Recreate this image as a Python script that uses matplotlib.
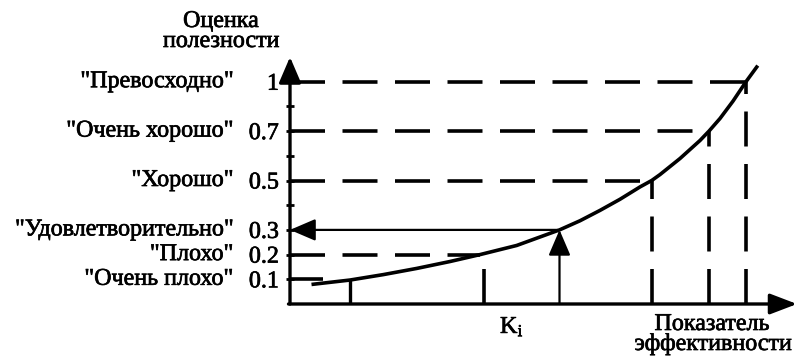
import numpy as np
import matplotlib
matplotlib.use("Agg")
import matplotlib.pyplot as plt
import matplotlib.patheffects as pe

plt.rcParams['font.family'] = ['Liberation Serif', 'DejaVu Serif']
plt.rcParams['mathtext.fontset'] = 'custom'
plt.rcParams['mathtext.rm'] = 'Liberation Serif'
plt.rcParams['mathtext.it'] = 'Liberation Serif'
plt.rcParams['lines.scale_dashes'] = False

# ---- data ----
curve_x = [0.466, 1.20, 1.866, 2.534, 3.20, 3.80, 4.534, 5.39, 5.80, 6.20, 6.60,
           7.00, 7.234, 7.40, 7.80, 8.20, 8.38, 8.60, 8.86, 9.12, 9.334]
curve_y = [0.080, 0.097, 0.119, 0.144, 0.172, 0.200, 0.237, 0.300, 0.337, 0.379, 0.424,
           0.474, 0.500, 0.524, 0.589, 0.662, 0.700, 0.7765, 0.882, 1.000, 1.089]

levels = [1.0, 0.7, 0.5, 0.3, 0.2, 0.1]
level_labels = ['1', '0.7', '0.5', '0.3', '0.2', '0.1']
grade_labels = ['"Превосходно"', '"Очень хорошо"', '"Хорошо"',
                '"Удовлетворительно"', '"Плохо"', '"Очень плохо"']
minor_levels = [0.85, 0.6, 0.4]

hguide_levels = [1.0, 0.7, 0.5, 0.2, 0.1]
hguide_xend = [9.12, 8.38, 7.234, 3.80, 0.66]
vguide_x = [9.12, 8.38, 7.234, 3.87]
vguide_top = [1.0, 0.7, 0.5, 0.2]
solid_tick_x = 1.20
solid_tick_top = 0.097
ki_x = 5.39
ki_y = 0.30
ki_label = r'$\mathrm{K_i}$'
y_title = ['Оценка', 'полезности']
x_title = ['Показатель', 'эффективности']

# ---- non-linear utility scale (top part compressed) ----
def fwd(v):
    v = np.asarray(v, float)
    return np.where(v <= 0.7, v * 10.0, 7.0 + (v - 0.7) / 0.15)

def inv(p):
    p = np.asarray(p, float)
    return np.where(p <= 7.0, p / 10.0, 0.7 + (p - 7.0) * 0.15)

W, H = 798, 358
FS = 17.3
bold_fx = [pe.withStroke(linewidth=0.5, foreground='black')]
fig = plt.figure(figsize=(W / 100, H / 100), dpi=100)
ax = fig.add_axes([290 / W, (H - 304) / H, 507 / W, 247 / H])
ax.set_yscale('function', functions=(fwd, inv))
ax.set_xlim(0, 10.14)
ax.set_ylim(0, 1.15)
for s in ax.spines.values():
    s.set_visible(False)
ax.set_xticks([])
ax.set_yticks(levels)
ax.set_yticklabels(level_labels, fontsize=FS)
for t in ax.get_yticklabels():
    t.set_path_effects(bold_fx)
ax.set_yticks(minor_levels, minor=True)
ax.tick_params(axis='y', which='both', direction='inout', length=6, width=2, pad=5)
ax.yaxis.set_minor_formatter(plt.NullFormatter())

dash = (25.2, 12.6)
lw = 2.6
# dashed guides
for lv, xe in zip(hguide_levels, hguide_xend):
    ax.plot([0, xe], [lv, lv], color='black', lw=lw, dashes=dash)
for xv, top in zip(vguide_x, vguide_top):
    ax.plot([xv, xv], [0, top], color='black', lw=lw, dashes=dash)
ax.plot([solid_tick_x, solid_tick_x], [0, solid_tick_top], color='black', lw=2.4,
        solid_capstyle='butt')

# curve
ax.plot(curve_x, curve_y, color='black', lw=2.6, solid_joinstyle='round')

# K_i arrows
arrow_style = '-|>,head_length=1.05,head_width=0.45'
ax.annotate('', xy=(ki_x, ki_y), xytext=(ki_x, 0),
            arrowprops=dict(arrowstyle=arrow_style, mutation_scale=15, lw=1.6,
                            color='black', shrinkA=0, shrinkB=0))
ax.annotate('', xy=(0, ki_y), xytext=(ki_x - 0.04, ki_y),
            arrowprops=dict(arrowstyle=arrow_style, mutation_scale=15, lw=1.6,
                            color='black', shrinkA=0, shrinkB=0))

# axes with arrows
ax.annotate('', xy=(0, 1), xycoords='axes fraction', xytext=(0, 0),
            textcoords='axes fraction',
            arrowprops=dict(arrowstyle=arrow_style, mutation_scale=15, lw=2.4,
                            color='black', shrinkA=0, shrinkB=0),
            annotation_clip=False)
ax.annotate('', xy=(1, 0), xycoords='axes fraction', xytext=(-0.003, 0),
            textcoords='axes fraction',
            arrowprops=dict(arrowstyle='-|>,head_length=1.1,head_width=0.42',
                            mutation_scale=15, lw=2.4, color='black',
                            shrinkA=0, shrinkB=0), annotation_clip=False)

# grade labels
for lv, g in zip(levels, grade_labels):
    ax.annotate(g, xy=(0, lv), xycoords=ax.get_yaxis_transform(),
                xytext=(-57, 0), textcoords='offset pixels',
                ha='right', va='center', fontsize=FS, path_effects=bold_fx)

# K_i label
ax.annotate(ki_label, xy=(4.44, 0), xytext=(0, -12), textcoords='offset pixels',
            ha='center', va='top', fontsize=FS, annotation_clip=False,
            path_effects=bold_fx)

# titles
for (xp, yp), s in zip([(221, 27), (221, 47), (712, 330), (713, 350)],
                       y_title + x_title):
    fig.text(xp / W, 1 - yp / H, s, ha='center', va='baseline', fontsize=FS,
             path_effects=bold_fx)

fig.savefig('out.png', dpi=100)
